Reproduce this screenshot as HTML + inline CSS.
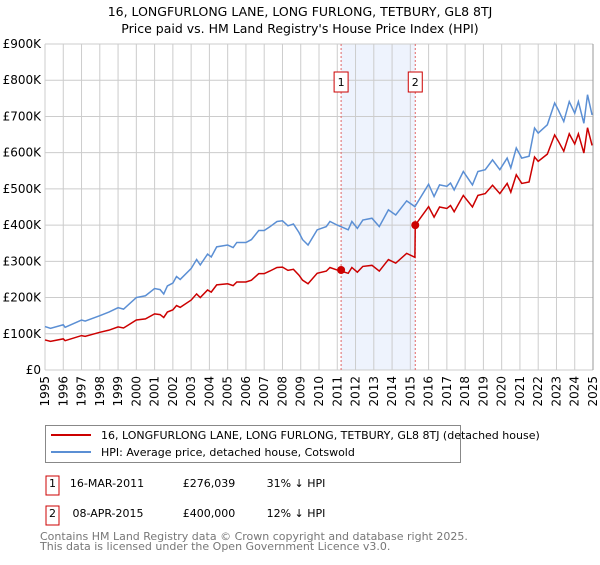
<!DOCTYPE html>
<html><head><meta charset="utf-8"><style>
body{margin:0;background:#fff;font-family:"Liberation Sans","DejaVu Sans",sans-serif;}
svg text{font-family:"DejaVu Sans","Liberation Sans",sans-serif;}
</style></head><body>
<svg id="chart" width="600" height="560" viewBox="0 0 600 560">
<text x="300" y="16" text-anchor="middle" font-size="12.5" fill="#000">16, LONGFURLONG LANE, LONG FURLONG, TETBURY, GL8 8TJ</text>
<text x="300" y="33" text-anchor="middle" font-size="12.5" fill="#000">Price paid vs. HM Land Registry's House Price Index (HPI)</text>
<g id="plot"></g>
<g>
<rect x="45.5" y="425.5" width="415" height="37" fill="#fff" stroke="#888"/>
<line x1="51" y1="435" x2="91" y2="435" stroke="#cc0000" stroke-width="2"/>
<text x="101" y="439" font-size="11">16, LONGFURLONG LANE, LONG FURLONG, TETBURY, GL8 8TJ (detached house)</text>
<line x1="51" y1="452" x2="91" y2="452" stroke="#5b8fd4" stroke-width="2"/>
<text x="101" y="456" font-size="11">HPI: Average price, detached house, Cotswold</text>
</g>
<g font-size="11">
<rect x="46" y="476" width="13" height="19" fill="#fff" stroke="#cc0000"/>
<text x="52.5" y="487" text-anchor="middle">1</text>
<text x="107" y="487" text-anchor="middle">16-MAR-2011</text>
<text x="209" y="487" text-anchor="middle">£276,039</text>
<text x="296" y="487" text-anchor="middle">31% ↓ HPI</text>
<rect x="46" y="506" width="13" height="19" fill="#fff" stroke="#cc0000"/>
<text x="52.5" y="517" text-anchor="middle">2</text>
<text x="108" y="517" text-anchor="middle">08-APR-2015</text>
<text x="209" y="517" text-anchor="middle">£400,000</text>
<text x="296" y="517" text-anchor="middle">12% ↓ HPI</text>
</g>
<text x="40" y="540" font-size="11" fill="#777">Contains HM Land Registry data © Crown copyright and database right 2025.</text>
<text x="40" y="550" font-size="11" fill="#777">This data is licensed under the Open Government Licence v3.0.</text>
</svg>
<script>
const yTicks=[0,100000,200000,300000,400000,500000,600000,700000,800000,900000];
const yTickLabels=["£0","£100K","£200K","£300K","£400K","£500K","£600K","£700K","£800K","£900K"];
const xYears=[1995,1996,1997,1998,1999,2000,2001,2002,2003,2004,2005,2006,2007,2008,2009,2010,2011,2012,2013,2014,2015,2016,2017,2018,2019,2020,2021,2022,2023,2024,2025];
const hpiDates=[1995.0,1995.3,1996.0,1996.1,1997.0,1997.2,1998.0,1998.5,1999.0,1999.3,2000.0,2000.5,2001.0,2001.3,2001.5,2001.7,2002.0,2002.2,2002.4,2003.0,2003.3,2003.5,2003.9,2004.1,2004.4,2005.0,2005.3,2005.5,2006.0,2006.3,2006.7,2007.0,2007.3,2007.7,2008.0,2008.3,2008.6,2008.9,2009.1,2009.4,2009.9,2010.4,2010.6,2011.0,2011.6,2011.8,2012.1,2012.4,2012.9,2013.3,2013.8,2014.2,2014.8,2015.25,2016.0,2016.3,2016.6,2017.0,2017.2,2017.4,2017.9,2018.4,2018.7,2019.1,2019.5,2019.9,2020.3,2020.5,2020.8,2021.1,2021.5,2021.8,2022.0,2022.5,2022.9,2023.1,2023.4,2023.7,2024.0,2024.2,2024.5,2024.7,2024.95];
const hpiValues=[120,115,125,118,138,135,150,160,172,168,200,205,225,222,210,232,240,258,250,280,305,290,320,312,340,345,338,352,352,360,385,385,395,410,412,398,403,380,360,345,387,396,410,400,387,410,391,414,419,396,442,428,467,451,513,479,511,507,516,497,548,511,548,553,580,553,585,558,613,585,590,668,654,677,737,718,686,741,709,741,681,760,704];
const propDates=[1995.0,1995.3,1996.0,1996.1,1997.0,1997.2,1998.0,1998.5,1999.0,1999.3,2000.0,2000.5,2001.0,2001.3,2001.5,2001.7,2002.0,2002.2,2002.4,2003.0,2003.3,2003.5,2003.9,2004.1,2004.4,2005.0,2005.3,2005.5,2006.0,2006.3,2006.7,2007.0,2007.3,2007.7,2008.0,2008.3,2008.6,2008.9,2009.1,2009.4,2009.9,2010.4,2010.6,2011.0,2011.6,2011.8,2012.1,2012.4,2012.9,2013.3,2013.8,2014.2,2014.8,2015.25,2015.27,2016.0,2016.3,2016.6,2017.0,2017.2,2017.4,2017.9,2018.4,2018.7,2019.1,2019.5,2019.9,2020.3,2020.5,2020.8,2021.1,2021.5,2021.8,2022.0,2022.5,2022.9,2023.1,2023.4,2023.7,2024.0,2024.2,2024.5,2024.7,2024.95];
const propValues=[83,79,86,81,95,93,104,110,119,116,138,141,155,153,145,160,166,178,173,193,210,200,221,215,235,238,233,243,243,248,266,266,273,283,284,275,278,262,248,238,267,273,283,276,267,283,270,286,289,273,305,295,322,311,400,451,422,450,446,454,437,482,450,482,487,510,487,515,491,539,515,519,588,576,596,649,632,604,652,624,652,599,669,620];
const saleDates=[2011.21,2015.27];
const saleValues=[276039,400000];
const saleLabels=["1","2"];

const NS="http://www.w3.org/2000/svg";
const L=45,R=593,T=44,B=370;
const x=d=>L+(d-1995)/(2025-1995)*(R-L);
const y=v=>B-v/900000*(B-T);
const g=document.getElementById('plot');
function mk(tag,attrs,parent){const e=document.createElementNS(NS,tag);for(const k in attrs)e.setAttribute(k,attrs[k]);(parent||g).appendChild(e);return e;}

const shade=mk('rect',{x:x(saleDates[0]),y:T,width:x(saleDates[1])-x(saleDates[0]),height:B-T,fill:'#eef3fd'});



yTicks.forEach((v,i)=>{
  const l=mk('line',{x1:L,x2:R,y1:y(v),y2:y(v),stroke:'#cccccc','stroke-width':1});
  
  
  const t=mk('text',{x:L-4,y:y(v)+4,'text-anchor':'end','font-size':12,fill:'#000'});
  t.textContent=yTickLabels[i];
  
  
});
xYears.forEach(yr=>{
  const l=mk('line',{x1:x(yr),x2:x(yr),y1:T,y2:B,stroke:'#cccccc','stroke-width':1});
  
  
  const t=mk('text',{x:0,y:0,'text-anchor':'end','font-size':12,fill:'#000',transform:`translate(${x(yr)+4},${B+6}) rotate(-90)`});
  t.textContent=yr;
  
  
});
const rb=mk('line',{x1:R,x2:R,y1:T,y2:B,stroke:'#999','stroke-width':1});



saleDates.forEach((d,i)=>{
  const l=mk('line',{x1:x(d),x2:x(d),y1:T,y2:B,stroke:'#e06666','stroke-width':1,'stroke-dasharray':'2,2'});
  
  
  const r=mk('rect',{x:x(d)-7,y:72,width:14,height:20,fill:'#fff',stroke:'#cc0000'});
  
  
  const t=mk('text',{x:x(d),y:86,'text-anchor':'middle','font-size':11});
  t.textContent=saleLabels[i];
  
  
});

const hp=mk('polyline',{points:hpiDates.map((d,i)=>x(d)+','+y(hpiValues[i]*1000)).join(' '),fill:'none',stroke:'#5b8fd4','stroke-width':1.5});


const pp=mk('polyline',{points:propDates.map((d,i)=>x(d)+','+y(propValues[i]*1000)).join(' '),fill:'none',stroke:'#cc0000','stroke-width':1.5});


saleDates.forEach((d,i)=>{
  const c=mk('circle',{cx:x(d),cy:y(saleValues[i]),r:4,fill:'#cc0000'});
  
  
});
</script>
</body></html>
